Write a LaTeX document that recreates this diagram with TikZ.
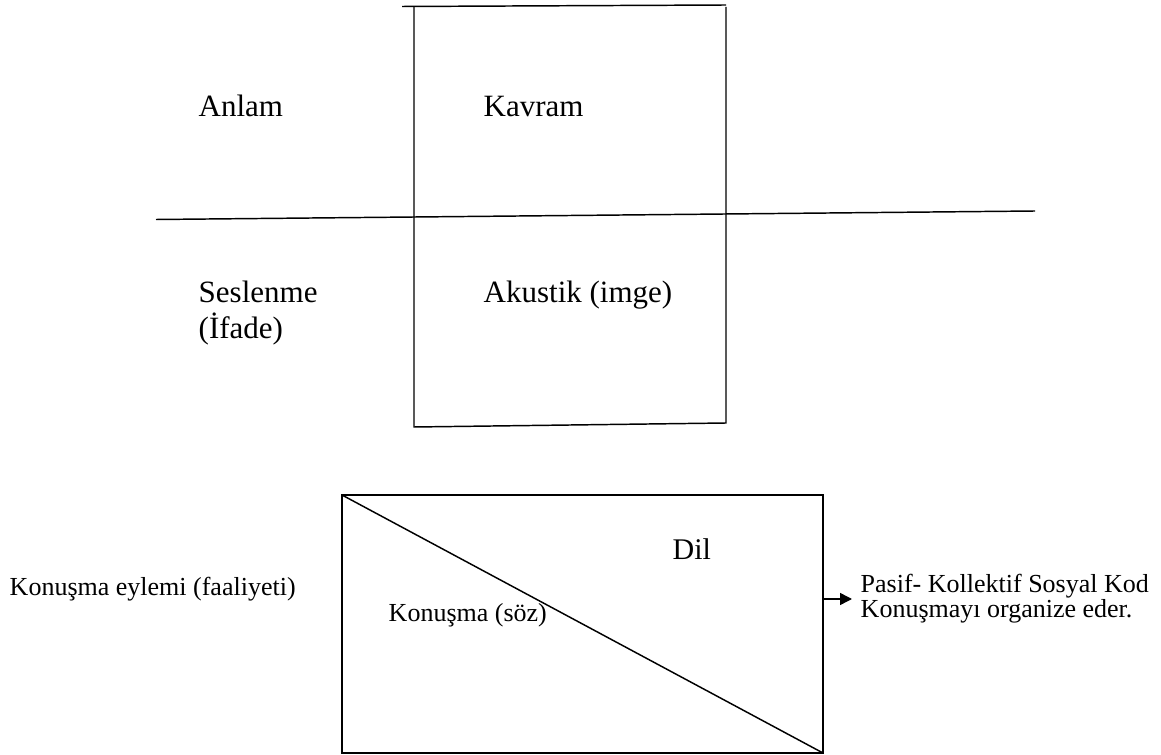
\documentclass[tikz,border=0pt]{standalone}
\usepackage{fontspec}
\setmainfont{Liberation Serif}
\usetikzlibrary{arrows.meta}
\begin{document}
\begin{tikzpicture}[x=0.75pt,y=-0.75pt,line width=1.1pt,
    big/.style={anchor=base west,inner sep=0pt,font=\fontsize{23.25}{28}\selectfont},
    small/.style={anchor=base west,inner sep=0pt,font=\fontsize{19.5}{23}\selectfont}]
        \useasboundingbox (0,0) rectangle (1161,755);
        % upper frame
        \coordinate (T1) at (402,6.5);
        \coordinate (T2) at (726,5);
        \coordinate (L1) at (414,7);
        \coordinate (L2) at (414,427);
        \coordinate (R1) at (726,7);
        \coordinate (R2) at (726,423);
        \draw (T1) -- (T2);
        \draw (L1) -- (L2) -- (R2) -- (R1);
        \coordinate (H1) at (156,219.5);
        \coordinate (H2) at (1035,211);
        \draw (H1) -- (H2);
        \node[big] (A) at (198,117) {Anlam};
        \node[big] (B) at (483,117) {Kavram};
        \node[big] (C) at (198,303) {Seslenme};
        \node[big] (D) at (198,339) {(İfade)};
        \node[big] (E) at (483,303) {Akustik (imge)};
        % lower frame
        \coordinate (P) at (342,495);
        \coordinate (Q) at (823,495);
        \coordinate (S) at (823,753);
        \coordinate (U) at (342,753);
        \coordinate (V) at (823,599);
        \coordinate (W) at (852,599);
        \draw (P) -- (Q) -- (S) -- (U) -- cycle;
        \draw (P) -- (S);
        \draw[-{Triangle[length=9pt,width=9pt]}] (V) -- (W);
        \node[small] (F) at (9,595) {Konuşma eylemi (faaliyeti)};
        \node[small] (G) at (388,621) {Konuşma (söz)};
        \node[anchor=base west,inner sep=0pt,font=\fontsize{22.5}{27}\selectfont] (H) at (672,560) {Dil};
        \node[small] (I) at (860,592) {Pasif- Kollektif Sosyal Kod};
        \node[small] (J) at (860,618) {Konuşmayı organize eder.};
      \end{tikzpicture}
\end{document}
